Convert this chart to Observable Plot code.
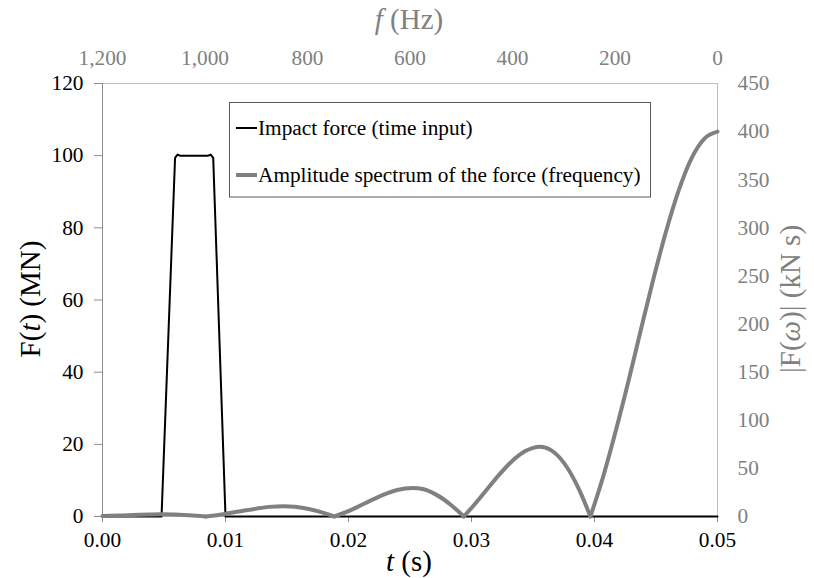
<!DOCTYPE html>
<html><head><meta charset="utf-8">
<script src="https://cdn.jsdelivr.net/npm/d3@7"></script>
<script src="https://cdn.jsdelivr.net/npm/@observablehq/plot@0.6"></script>
<style>
body{margin:0;background:#fff;}
#chart svg{display:block;}
</style></head>
<body><div id="chart"></div>
<script>
// Impact force (time input), F(t) in MN vs t in s
const forceTime  = [0, 0.0048, 0.0059, 0.0061, 0.0063, 0.0086, 0.0088, 0.0090, 0.0100, 0.05];
const forceValue = [0, 0,      99.4,   100.3,  100,    100,    100.3,  99.4,   0,      0];

// Amplitude spectrum |F(ω)| in kN s vs f in Hz
const specFreq = [0, 25, 50, 75, 100, 125, 150, 175, 200, 225, 248,
                  270, 300, 325, 346, 375, 400, 425, 450, 475, 495,
                  520, 550, 575, 595, 625, 650, 675, 700, 725, 748,
                  770, 800, 825, 846, 875, 900, 930, 960, 985, 999,
                  1030, 1060, 1085, 1110, 1140, 1170, 1200];
const specAmp  = [400, 393, 373, 340, 297, 247, 193, 138, 86, 38, 0,
                  28, 56, 69, 72.6, 68, 58, 44, 28, 12, 0,
                  12, 23, 28.5, 29.6, 27.5, 23, 17, 10.5, 4.5, 0,
                  4, 8, 10.2, 10.7, 10, 8.2, 5.5, 2.8, 0.8, 0,
                  1.3, 2.2, 2.4, 2.1, 1.5, 1.0, 0.5];

// Axis tick values
const tTicks   = [0, 0.01, 0.02, 0.03, 0.04, 0.05];
const fTicks   = [1200, 1000, 800, 600, 400, 200, 0];
const FTicks   = [0, 20, 40, 60, 80, 100, 120];
const ampTicks = [0, 50, 100, 150, 200, 250, 300, 350, 400, 450];

const legendLabels = ["Impact force (time input)", "Amplitude spectrum of the force (frequency)"];

// Secondary axes mapping onto primary scales
const tMax = 0.05, fMax = 1200, FMax = 120, ampMax = 450;
const tOfF = f => tMax * (fMax - f) / fMax;
const fOfT = t => Math.round(fMax * (1 - t / tMax));
const yOfAmp = a => a * FMax / ampMax;
const ampOfY = y => Math.round(y * ampMax / FMax);

const force = forceTime.map((t, i) => ({t, F: forceValue[i]}));

let spec = [];
let lobe = 0;
specFreq.forEach((f, i) => {
  const a = specAmp[i];
  spec.push({t: tOfF(f), y: yOfAmp(a), lobe});
  if (a === 0 && i > 0 && i < specFreq.length - 1) {
    lobe++;
    spec.push({t: tOfF(f), y: 0, lobe});
  }
});
spec = d3.sort(spec, d => d.t);

const GRAY = "#808080";
const FONT = "'Liberation Serif','Times New Roman',serif";
const TITLE_SIZE = 29;

const plot = Plot.plot({
  width: 814,
  height: 578,
  marginLeft: 102,
  marginRight: 97,
  marginTop: 83,
  marginBottom: 62,
  style: {fontFamily: FONT, fontSize: "21.3px", background: "#fff", color: "#000"},
  x: {domain: [0, tMax]},
  y: {domain: [0, FMax]},
  marks: [
    Plot.frame({stroke: "#c0c0c0"}),
    Plot.ruleX([0], {stroke: "#8c8c8c"}),
    Plot.axisY({ticks: FTicks, tickSize: 8, tickPadding: 11, stroke: "#8c8c8c", fill: "#000", label: null, tickFormat: d => d}),
    Plot.axisX({ticks: tTicks, tickSize: 6, tickPadding: 9, stroke: "#8c8c8c", fill: "#000", label: null, tickFormat: d3.format(".2f")}),
    Plot.axisX({anchor: "top", ticks: fTicks.map(tOfF), tickSize: 0, tickPadding: 19, fill: GRAY, label: null, tickFormat: d => d3.format(",")(fOfT(d))}),
    Plot.axisY({anchor: "right", ticks: ampTicks.map(yOfAmp), tickSize: 0, tickPadding: 20, fill: GRAY, label: null, tickFormat: d => ampOfY(d)}),
    Plot.line(force, {x: "t", y: "F", stroke: "#000", strokeWidth: 2}),
    Plot.line(spec, {x: "t", y: "y", z: "lobe", stroke: GRAY, strokeWidth: 4, curve: "monotone-x"})
  ]
});

document.getElementById("chart").appendChild(plot);

const svg = d3.select(plot);
const titles = svg.append("g").attr("font-family", FONT);

// Left title F(t) (MN)
const lt = titles.append("text")
  .attr("transform", "translate(30,299) rotate(-90)")
  .attr("text-anchor", "middle").attr("dominant-baseline", "central")
  .attr("font-size", TITLE_SIZE).attr("fill", "#000");
lt.append("tspan").text("F(");
lt.append("tspan").attr("font-style", "italic").text("t");
lt.append("tspan").text(") (MN)");

// Right title |F(ω)| (kN s)
const rt = titles.append("text")
  .attr("transform", "translate(790,299) rotate(-90)")
  .attr("text-anchor", "middle").attr("dominant-baseline", "central")
  .attr("font-size", TITLE_SIZE).attr("fill", GRAY);
rt.append("tspan").text("|F(");
rt.append("tspan").attr("font-style", "italic").text("ω");
rt.append("tspan").text(")| (kN s)");

// Bottom title t (s)
const bt = titles.append("text")
  .attr("x", 409).attr("y", 571)
  .attr("text-anchor", "middle")
  .attr("font-size", TITLE_SIZE).attr("fill", "#000");
bt.append("tspan").attr("font-style", "italic").text("t");
bt.append("tspan").text(" (s)");

// Top title f (Hz)
const tt = titles.append("text")
  .attr("x", 409).attr("y", 29)
  .attr("text-anchor", "middle")
  .attr("font-size", TITLE_SIZE).attr("fill", GRAY);
tt.append("tspan").attr("font-style", "italic").text("f");
tt.append("tspan").text(" (Hz)");

// Legend
const lg = svg.append("g").attr("font-family", FONT).attr("font-size", 21.3);
lg.append("rect").attr("x", 229.5).attr("y", 102.5).attr("width", 421).attr("height", 94.5)
  .attr("fill", "#fff").attr("stroke", "#595959").attr("stroke-width", 1);
const legendStyles = [{stroke: "#000", w: 2, y: 128}, {stroke: GRAY, w: 4, y: 175}];
legendLabels.forEach((lab, i) => {
  const s = legendStyles[i];
  lg.append("line").attr("x1", 236).attr("x2", 257).attr("y1", s.y).attr("y2", s.y)
    .attr("stroke", s.stroke).attr("stroke-width", s.w);
  lg.append("text").attr("x", 258).attr("y", s.y)
    .attr("text-anchor", "start").attr("dominant-baseline", "central")
    .attr("fill", "#000").text(lab);
});
</script>
</body></html>
